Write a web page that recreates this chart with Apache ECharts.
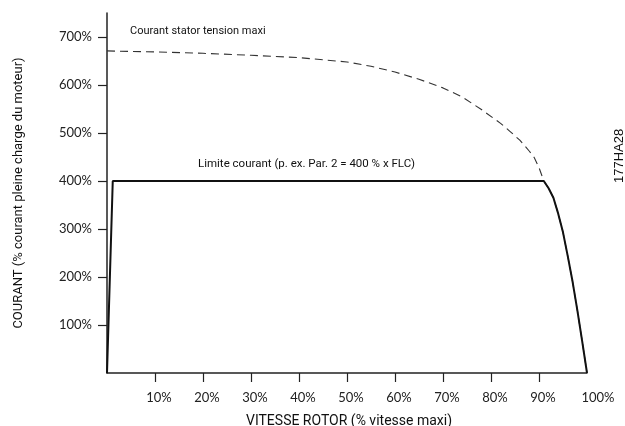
<!DOCTYPE html>
<html>
<head>
<meta charset="utf-8">
<script src="https://cdn.jsdelivr.net/npm/echarts@6/dist/echarts.min.js"></script>
<style>
  html, body { margin: 0; padding: 0; background: #fff; }
  #chart { width: 625px; height: 426px; }
</style>
</head>
<body>
<div id="chart"></div>
<script>
// vitesse rotor (%) / courant (%)
const statorSpeed = [0, 10, 20, 30, 40, 50, 55, 60, 65, 70, 74, 78, 82, 84, 86, 88, 89, 90, 91, 92, 93, 94, 95, 96, 97, 98, 99, 100];
const statorCurrent = [671, 669, 666, 662, 657, 648, 639, 627, 612, 594, 575, 549, 520, 503, 485, 462, 449, 428, 400, 385, 365, 332, 293, 243, 190, 130, 66, 0];

const limitSpeed = [0, 1.2, 91, 92, 93, 94, 95, 96, 97, 98, 99, 100];
const limitCurrent = [0, 400, 400, 385, 365, 332, 293, 243, 190, 130, 66, 0];

const xTicks = [10, 20, 30, 40, 50, 60, 70, 80, 90];
const xLabels = [10, 20, 30, 40, 50, 60, 70, 80, 90, 100];
const yTicks = [100, 200, 300, 400, 500, 600, 700];

const narrow = 'Roboto, sans-serif';
const labelStyle = { fontFamily: 'Lato, sans-serif', fontSize: 13, color: '#222' };

let myChart = echarts.init(document.getElementById('chart'));
myChart.setOption({
  animation: false,
  grid: { left: 107, right: 38, top: 13, bottom: 53, outerBoundsMode: 'none', containLabel: false },
  xAxis: {
    type: 'value',
    min: 0,
    max: 100,
    name: 'VITESSE ROTOR (% vitesse maxi)',
    nameLocation: 'middle',
    nameGap: 41,
    nameTextStyle: { fontFamily: narrow, fontSize: 14, color: '#111', padding: [0, 0, 0, 4] },
    axisLine: { lineStyle: { color: '#222', width: 1.5 } },
    axisTick: { customValues: xTicks, length: 9, lineStyle: { color: '#222', width: 1.2 } },
    axisLabel: {
      customValues: xLabels,
      margin: 18,
      ...labelStyle,
      formatter: v => (v === 100 ? '{e|100%}' : '{n|' + v + '%}'),
      rich: {
        n: { padding: [0, 0, 0, 8], ...labelStyle },
        e: { padding: [0, 0, 0, 22], ...labelStyle }
      }
    },
    splitLine: { show: false }
  },
  yAxis: {
    type: 'value',
    min: 0,
    max: 750,
    name: 'COURANT (% courant pleine charge du moteur)',
    nameLocation: 'middle',
    nameGap: 82,
    nameRotate: 90,
    nameTextStyle: { fontFamily: narrow, fontSize: 13, color: '#111' },
    axisLine: { show: true, lineStyle: { color: '#222', width: 1.5 } },
    axisTick: { show: true, customValues: yTicks, length: 9, lineStyle: { color: '#222', width: 1.2 } },
    axisLabel: {
      customValues: yTicks,
      margin: 15,
      ...labelStyle,
      formatter: '{value}%'
    },
    splitLine: { show: false }
  },
  series: [
    {
      name: 'Courant stator tension maxi',
      type: 'line',
      data: statorSpeed.map((s, i) => [s, statorCurrent[i]]),
      symbol: 'none',
      lineStyle: { color: '#333', width: 1.1, type: [8, 5] },
      z: 2
    },
    {
      name: 'Limite courant',
      type: 'line',
      data: limitSpeed.map((s, i) => [s, limitCurrent[i]]),
      symbol: 'none',
      lineStyle: { color: '#111', width: 2 },
      z: 3
    }
  ],
  graphic: [
    {
      type: 'text', left: 130, top: 26,
      style: { text: 'Courant stator tension maxi', font: '11px ' + narrow, fill: '#111' }
    },
    {
      type: 'text', left: 198, top: 158,
      style: { text: 'Limite courant (p. ex. Par. 2 = 400 % x FLC)', font: '11.5px ' + narrow, fill: '#111' }
    },
    {
      type: 'text', x: 613, y: 183, rotation: Math.PI / 2,
      style: { text: '177HA28', font: '13px "Liberation Sans", sans-serif', fill: '#111' }
    }
  ]
});
</script>
</body>
</html>
